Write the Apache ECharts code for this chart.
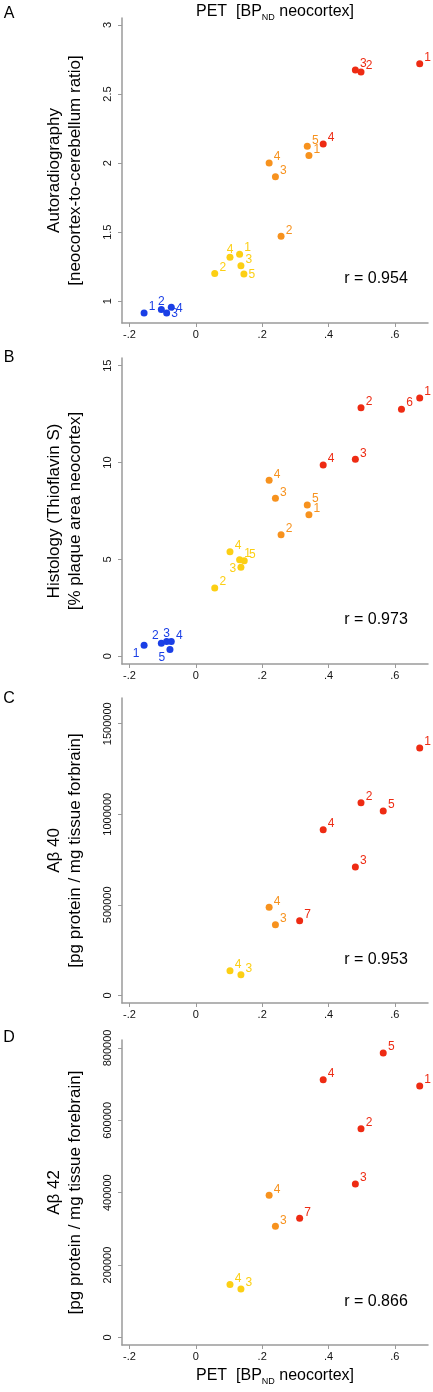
<!DOCTYPE html>
<html><head><meta charset="utf-8">
<script src="https://cdn.jsdelivr.net/npm/echarts@6/dist/echarts.min.js"></script>
<style>html,body{margin:0;padding:0;background:#fff}#c{width:433px;height:1392px}</style>
</head><body><div id="c"></div>
<script>
// ---------- DATA ----------
const xTicks = [-0.2, 0, 0.2, 0.4, 0.6];

// Panel A: Autoradiography
const groupA = ['blue','blue','blue','blue','yellow','yellow','yellow','yellow','yellow','orange','orange','orange','orange','orange','red','red','red','red'];
const idA = ['1','2','3','4','1','2','3','4','5','1','2','3','4','5','1','2','3','4'];
const petA = [-0.156,-0.104,-0.088,-0.074, 0.132,0.057,0.136,0.103,0.145, 0.341,0.257,0.240,0.221,0.336, 0.675,0.498,0.481,0.384];
const autoradA = [0.915,0.940,0.915,0.957, 1.341,1.201,1.257,1.319,1.197, 2.055,1.470,1.901,2.000,2.122, 2.719,2.659,2.673,2.139];
const yTicksA = [1, 1.5, 2, 2.5, 3];

// Panel B: Histology
const groupB = ['blue','blue','blue','blue','blue','yellow','yellow','yellow','yellow','yellow','orange','orange','orange','orange','orange','red','red','red','red','red'];
const idB = ['1','2','3','4','5','1','2','3','4','5','1','2','3','4','5','1','2','3','4','6'];
const petB = [-0.156,-0.104,-0.088,-0.074,-0.078, 0.132,0.057,0.136,0.103,0.146, 0.341,0.257,0.240,0.221,0.336, 0.675,0.498,0.481,0.384,0.620];
const histoB = [0.57,0.67,0.76,0.76,0.35, 4.98,3.53,4.59,5.39,4.93, 7.31,6.27,8.16,9.09,7.81, 13.34,12.83,10.17,9.88,12.76];
const yTicksB = [0, 5, 10, 15];

// Panel C: Abeta 40
const groupC = ['yellow','yellow','orange','orange','red','red','red','red','red','red'];
const idC = ['3','4','3','4','1','2','3','4','5','7'];
const petC = [0.136,0.103, 0.240,0.221, 0.675,0.498,0.481,0.384,0.565,0.313];
const ab40C = [114000,136000, 390000,487000, 1366000,1064000,709000,915000,1018000,412000];
const yTicksC = [0, 500000, 1000000, 1500000];

// Panel D: Abeta 42
const groupD = groupC;
const idD = idC;
const petD = petC;
const ab42D = [134000,146000, 307000,393000, 695000,577000,424000,712000,786000,329000];
const yTicksD = [0, 200000, 400000, 600000, 800000];

const rValues = ['r = 0.954', 'r = 0.973', 'r = 0.953', 'r = 0.866'];

// ---------- label placement (style, not data) ----------
const placeA = ['ur','t','r','r', 'ur','ur','ur','t','r', 'ur','ur','ur','ur','ur', 'ur','ur','ur','ur'];
const placeB = ['ll','ul','t','ur','ll', 'ur','ur','l','ur','ur', 'ur','ur','ur','ur','ur', 'ur','ur','ur','ur','ur'];
const placeC = null;
const OFF = {ur:[8,-6], t:[0,-8], r:[8,1], l:[-8,1], ll:[-8,8], ul:[-6,-8]};

const COLORS = {blue:'#1a3fe6', yellow:'#fccf14', orange:'#f7921e', red:'#ee2b13'};
const GROUP_ORDER = ['blue','yellow','orange','red'];
const FONT = 'Liberation Sans, Arial, Helvetica, sans-serif';
const AXC = '#9a9a9a';

const panels = [
  {group:groupA, id:idA, x:petA, y:autoradA, place:placeA, ticks:yTicksA, min:0.843, max:3.05, top:18, height:305,
   name:'Autoradiography\n[neocortex-to-cerebellum ratio]'},
  {group:groupB, id:idB, x:petB, y:histoB, place:placeB, ticks:yTicksB, min:-0.4, max:15.4, top:358, height:306,
   name:'Histology (Thioflavin S)\n[% plaque area neocortex]'},
  {group:groupC, id:idC, x:petC, y:ab40C, place:null, ticks:yTicksC, min:-42000, max:1642000, top:698, height:305,
   name:'Aβ 40\n[pg protein / mg tissue forbrain]'},
  {group:groupD, id:idD, x:petD, y:ab42D, place:null, ticks:yTicksD, min:-21000, max:822000, top:1040, height:305,
   name:'Aβ 42\n[pg protein / mg tissue forebrain]'}
];

function fmtX(v){
  const s = (Math.round(v*10)/10).toFixed(1);
  if (Math.abs(v) < 1e-9) return '0';
  return s.replace(/^(-?)0\./, '$1.');
}

const grid = [], xAxis = [], yAxis = [], series = [];
panels.forEach((p, i) => {
  grid.push({left:122, top:p.top, width:306, height:p.height});
  xAxis.push({
    type:'value', gridIndex:i, min:-0.2226, max:0.70,
    axisLine:{onZero:false, lineStyle:{color:AXC, width:1.5}},
    axisTick:{length:4, lineStyle:{color:AXC, width:1}, customValues:xTicks},
    axisLabel:{customValues:xTicks, formatter:fmtX, fontSize:11, color:'#111', margin:6, fontFamily:FONT},
    splitLine:{show:false}
  });
  yAxis.push({
    type:'value', gridIndex:i, min:p.min, max:p.max,
    axisLine:{show:true, onZero:false, lineStyle:{color:AXC, width:1.5}},
    axisTick:{show:true, length:4, lineStyle:{color:AXC, width:1}, customValues:p.ticks},
    axisLabel:{customValues:p.ticks, rotate:90, fontSize:11, color:'#111', margin:9, fontFamily:FONT,
      formatter:v => String(v)},
    splitLine:{show:false},
    name:p.name, nameLocation:'middle', nameRotate:90, nameGap:36,
    nameTextStyle:{fontSize:17, lineHeight:21, color:'#000', fontFamily:FONT, align:'center'}
  });
  GROUP_ORDER.forEach(g => {
    const data = [];
    p.group.forEach((gg, k) => {
      if (gg !== g) return;
      const pl = p.place ? p.place[k] : 'ur';
      data.push({name:p.id[k], value:[p.x[k], p.y[k]], label:{offset:OFF[pl]}});
    });
    if (!data.length) return;
    series.push({
      type:'scatter', xAxisIndex:i, yAxisIndex:i, symbol:'circle', symbolSize:7,
      itemStyle:{color:COLORS[g], opacity:1},
      label:{show:true, position:'inside', formatter:'{b}', color:COLORS[g], fontSize:12, fontFamily:FONT},
      emphasis:{disabled:true},
      data
    });
  });
});

const rPos = [279, 620, 960, 1302];
const letters = [['A',14],['B',358],['C',699],['D',1038]];
const graphic = [];
letters.forEach(([t,y]) => graphic.push({type:'text', x:9, y:y, style:{text:t, fontSize:16, fontFamily:FONT, fill:'#000', textAlign:'center', textVerticalAlign:'middle', align:'center', verticalAlign:'middle'}}));
rValues.forEach((t,i) => graphic.push({type:'text', x:376, y:rPos[i], style:{text:t, fontSize:16, fontFamily:FONT, fill:'#000', textAlign:'center', textVerticalAlign:'middle', align:'center', verticalAlign:'middle'}}));
const petTitle = {text:'{a|PET  [BP}{s|ND}{a| neocortex]}', fontFamily:FONT, fill:'#000', textAlign:'center', textVerticalAlign:'middle', align:'center', verticalAlign:'middle',
  rich:{a:{fontSize:16, fontFamily:FONT, fill:'#000', color:'#000', lineHeight:20}, s:{fontSize:9, fontFamily:FONT, fill:'#000', color:'#000', verticalAlign:'bottom', lineHeight:9}}};
graphic.push({type:'text', x:275, y:12, style:Object.assign({}, petTitle)});
graphic.push({type:'text', x:275, y:1376, style:Object.assign({}, petTitle)});

const chart = echarts.init(document.getElementById('c'), null, {renderer:'canvas'});
chart.setOption({
  animation:false,
  backgroundColor:'#fff',
  textStyle:{fontFamily:FONT},
  grid, xAxis, yAxis, series, graphic
});
</script></body></html>
